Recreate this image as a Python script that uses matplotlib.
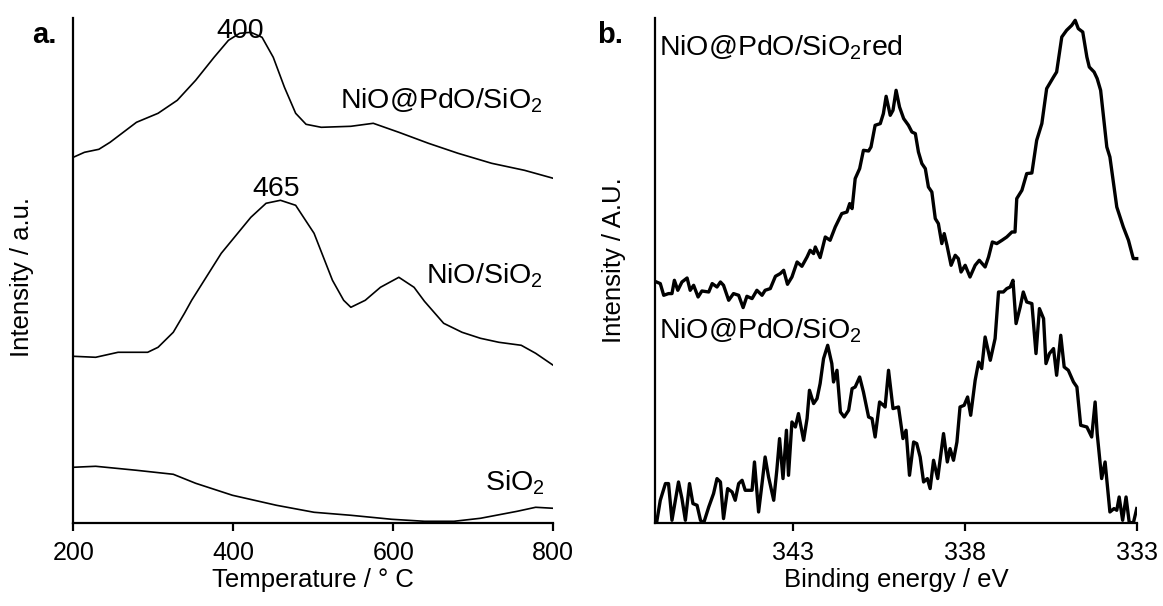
import matplotlib
matplotlib.use("Agg")
import matplotlib.pyplot as plt

plt.rcParams['font.family'] = ['Liberation Sans', 'DejaVu Sans']
plt.rcParams['mathtext.default'] = 'regular'

# ---- panel a: TPR profiles (temperature in C, intensity a.u.) ----
t_pd = [200, 214, 232, 246, 279, 306, 330, 353, 376, 394, 408, 422, 436, 450, 464,
        478, 491, 510, 547, 575, 607, 644, 681, 723, 764, 800]
i_pd = [366, 371, 374, 381, 401, 410, 423, 443, 466, 483, 490, 491, 486, 466, 436,
        410, 399, 396, 397, 400, 391, 380, 370, 360, 353, 345]

t_ni = [200, 228, 256, 293, 306, 325, 339, 348, 385, 422, 441, 459, 478, 501, 524,
        538, 547, 565, 584, 607, 626, 639, 663, 686, 709, 732, 760, 778, 800]
i_ni = [167, 166, 171, 171, 176, 191, 210, 223, 270, 306, 320, 323, 318, 290, 243,
        223, 216, 223, 236, 246, 236, 222, 200, 191, 185, 181, 178, 170, 158]

t_si = [200, 228, 279, 325, 353, 399, 454, 501, 547, 598, 639, 676, 709, 755, 778, 800]
i_si = [56, 57, 53, 49, 40, 28, 18, 11, 8, 4, 2, 2, 5, 12, 16, 15]

# ---- panel b: XPS Pd 3d (binding energy eV, intensity A.U.) ----
e_red = [346.97, 346.86, 346.76, 346.62, 346.52, 346.45, 346.35, 346.23, 346.08, 345.99,
         345.89, 345.76, 345.65, 345.45, 345.35, 345.21, 345.11, 345.02, 344.87, 344.73,
         344.58, 344.45, 344.34, 344.19, 344.05, 343.90, 343.81, 343.66, 343.51, 343.37,
         343.27, 343.16, 343.03, 342.88, 342.74, 342.59, 342.50, 342.40, 342.35, 342.21,
         342.06, 341.92, 341.77, 341.58, 341.43, 341.35, 341.28, 341.19, 341.06, 340.95,
         340.80, 340.73, 340.61, 340.46, 340.37, 340.29,
         340.17, 340.09, 340.00, 339.90, 339.78, 339.64, 339.54, 339.44, 339.35, 339.25,
         339.15, 339.06, 338.96, 338.86, 338.77, 338.67, 338.60, 338.52, 338.40, 338.28,
         338.19, 338.11, 337.99, 337.85, 337.70, 337.58, 337.41, 337.31, 337.20, 337.07,
         336.92, 336.78, 336.63, 336.54, 336.49, 336.34, 336.20, 336.05, 335.91, 335.76,
         335.62, 335.42, 335.33, 335.18, 335.04, 334.89, 334.79, 334.70, 334.57, 334.45,
         334.38, 334.24, 334.15, 334.05, 333.87, 333.78, 333.58, 333.39, 333.24, 333.10,
         333.00]
i_red = [241.3, 239.7, 228, 229.7, 229.7, 243, 233, 241.3, 245.3, 233,
         238, 226.3, 232.3, 231.3, 239.7, 236.3, 241.3, 238, 223, 229.7,
         228, 215.7, 227, 224.7, 233, 228, 233, 234.7, 247, 249.7,
         253, 239, 246.3, 261.3, 257, 266.3, 273, 269.7, 276.3, 265.7,
         286.3, 283, 296.3, 309.7, 311.3, 319.7, 314.7, 344.7, 354.7, 373,
         372.3, 376.3, 398, 399.7, 409.7, 427,
         408, 413, 433, 416.3, 404.7, 398, 391.3, 389.7, 371.3, 359.7,
         354.7, 336.3, 331.3, 304.7, 299.7, 279.7, 289.7, 278, 258, 268,
         264.7, 251.3, 258, 246.3, 258, 263, 256.3, 266.3, 281.3, 279.7,
         283, 286.3, 291.3, 291.3, 324.7, 333, 349.7, 350.3, 383, 399.7,
         434.7, 446.3, 451.3, 486.3, 493, 498, 503, 494.7, 491.3, 466.3,
         456.3, 451.3, 444.7, 433, 376.3, 366.3, 316.3, 296.3, 283, 264.7,
         264.7]

e_ox = [346.97, 346.86, 346.71, 346.62, 346.52, 346.42, 346.33, 346.23, 346.13, 346.01,
        345.91, 345.79, 345.69, 345.60, 345.45, 345.31, 345.21, 345.11, 345.02, 344.90,
        344.77, 344.68, 344.58, 344.48, 344.39, 344.29, 344.19, 344.12, 344.00, 343.90,
        343.81, 343.71, 343.56, 343.47, 343.39, 343.29, 343.19, 343.13, 343.03, 342.93,
        342.84, 342.69, 342.59, 342.52, 342.40, 342.30, 342.21, 342.11, 341.99, 341.87,
        341.82, 341.72, 341.62, 341.51, 341.38, 341.28, 341.19, 341.06, 340.95, 340.80,
        340.70, 340.61, 340.48, 340.37, 340.32, 340.22,
        340.09, 339.93, 339.80, 339.71, 339.61, 339.49, 339.40, 339.30, 339.20, 339.09,
        339.01, 338.91, 338.79, 338.62, 338.51, 338.43, 338.33, 338.23, 338.14, 338.02,
        337.92, 337.83, 337.70, 337.60, 337.51, 337.41, 337.26, 337.12, 337.02, 336.88,
        336.78, 336.68, 336.60, 336.51, 336.39, 336.30, 336.20, 336.05, 335.93, 335.83,
        335.71, 335.64, 335.54, 335.42, 335.33, 335.21, 335.11, 334.99, 334.84, 334.74,
        334.63, 334.45, 334.31, 334.21, 334.15, 334.02, 333.92, 333.78, 333.66, 333.58,
        333.51, 333.41, 333.31, 333.22, 333.10, 333.00]
i_ox = [0, 23, 39.7, 39.7, 3, 23, 41.3, 24.7, 3, 39.7,
        19.7, 18, 3, 0, 16.3, 29.7, 44.7, 41.3, 4.7, 34.7,
        31.3, 23, 39.7, 43, 33, 33, 33, 61.3, 11.3, 39.7,
        66.3, 46.3, 23, 53, 84.7, 44.7, 93, 48, 101.3, 96.3,
        109.7, 83, 104.7, 133, 119.7, 124.7, 139.7, 164.7, 178, 159.7,
        141.3, 153, 111.3, 106.3, 113, 134.7, 136.3, 146.3, 131.3, 106.3,
        104.7, 86.3, 121.3, 118, 116.3, 153,
        114.7, 116.3, 84.7, 93, 48, 81.3, 79.7, 66.3, 41.3, 44.7,
        34.7, 63, 44.7, 89.7, 61.3, 74.7, 63, 81.3, 116.3, 118,
        126.3, 108, 143, 161.3, 154.7, 186.3, 163, 184.7, 231.3, 231.3,
        234.7, 236.3, 243, 199.7, 216.3, 231.3, 221.3, 219.7, 169.7, 214.7,
        204.7, 159.7, 169.7, 174.7, 148, 188, 156.3, 153, 141.3, 136.3,
        98, 96.3, 86.3, 121.3, 89.7, 44.7, 61.3, 11.3, 14.7, 13,
        26.3, 3, 26.3, 1.3, 0, 14.7]

fig = plt.figure(figsize=(11.63, 6.06), dpi=100)
ax1 = fig.add_axes([0.0630, 0.1365, 0.4127, 0.8333])
ax2 = fig.add_axes([0.5636, 0.1365, 0.4138, 0.8333])

for ax in (ax1, ax2):
    ax.spines['top'].set_visible(False)
    ax.spines['right'].set_visible(False)
    ax.spines['left'].set_linewidth(1.6)
    ax.spines['bottom'].set_linewidth(1.6)
    ax.set_yticks([])
    ax.set_ylim(0, 505)
    ax.tick_params(axis='x', direction='out', length=6, width=1.6, labelsize=18, pad=7)

# panel a
ax1.plot(t_pd, i_pd, color='black', lw=1.2)
ax1.plot(t_ni, i_ni, color='black', lw=1.2)
ax1.plot(t_si, i_si, color='black', lw=1.2)
ax1.set_xlim(200, 800)
ax1.set_xticks([200, 400, 600, 800])
ax1.set_xlabel('Temperature / ° C', fontsize=18.5, labelpad=2)
ax1.text(409, 485, '400', fontsize=20.5, ha='center', va='baseline')
ax1.text(454, 327, '465', fontsize=20.5, ha='center', va='baseline')
ax1.text(787, 415, 'NiO@PdO/SiO$_2$', fontsize=20.5, ha='right', va='baseline')
ax1.text(787, 240, 'NiO/SiO$_2$', fontsize=20.5, ha='right', va='baseline')
ax1.text(790, 33, 'SiO$_2$', fontsize=20.5, ha='right', va='baseline')

# panel b
ax2.plot(e_red, i_red, color='black', lw=2.4, clip_on=False)
ax2.plot(e_ox, i_ox, color='black', lw=2.4)
ax2.set_xlim(347, 333)
ax2.set_xticks([343, 338, 333])
ax2.set_xlabel('Binding energy / eV', fontsize=18.5, labelpad=2)
ax2.text(346.89, 468, 'NiO@PdO/SiO$_2$red', fontsize=20.5, ha='left', va='baseline')
ax2.text(346.89, 185, 'NiO@PdO/SiO$_2$', fontsize=20.5, ha='left', va='baseline')

# y labels and panel letters
fig.text(22.5 / 1163, 1 - 277 / 606, 'Intensity / a.u.', rotation=90,
         fontsize=18.5, ha='center', va='center')
fig.text(613.5 / 1163, 1 - 260 / 606, 'Intensity / A.U.', rotation=90,
         fontsize=18.5, ha='center', va='center')
fig.text(32 / 1163, 1 - 43 / 606, 'a.', fontsize=21, fontweight='bold', va='baseline')
fig.text(597 / 1163, 1 - 43 / 606, 'b.', fontsize=21, fontweight='bold', va='baseline')

fig.savefig('out.png', dpi=100)
